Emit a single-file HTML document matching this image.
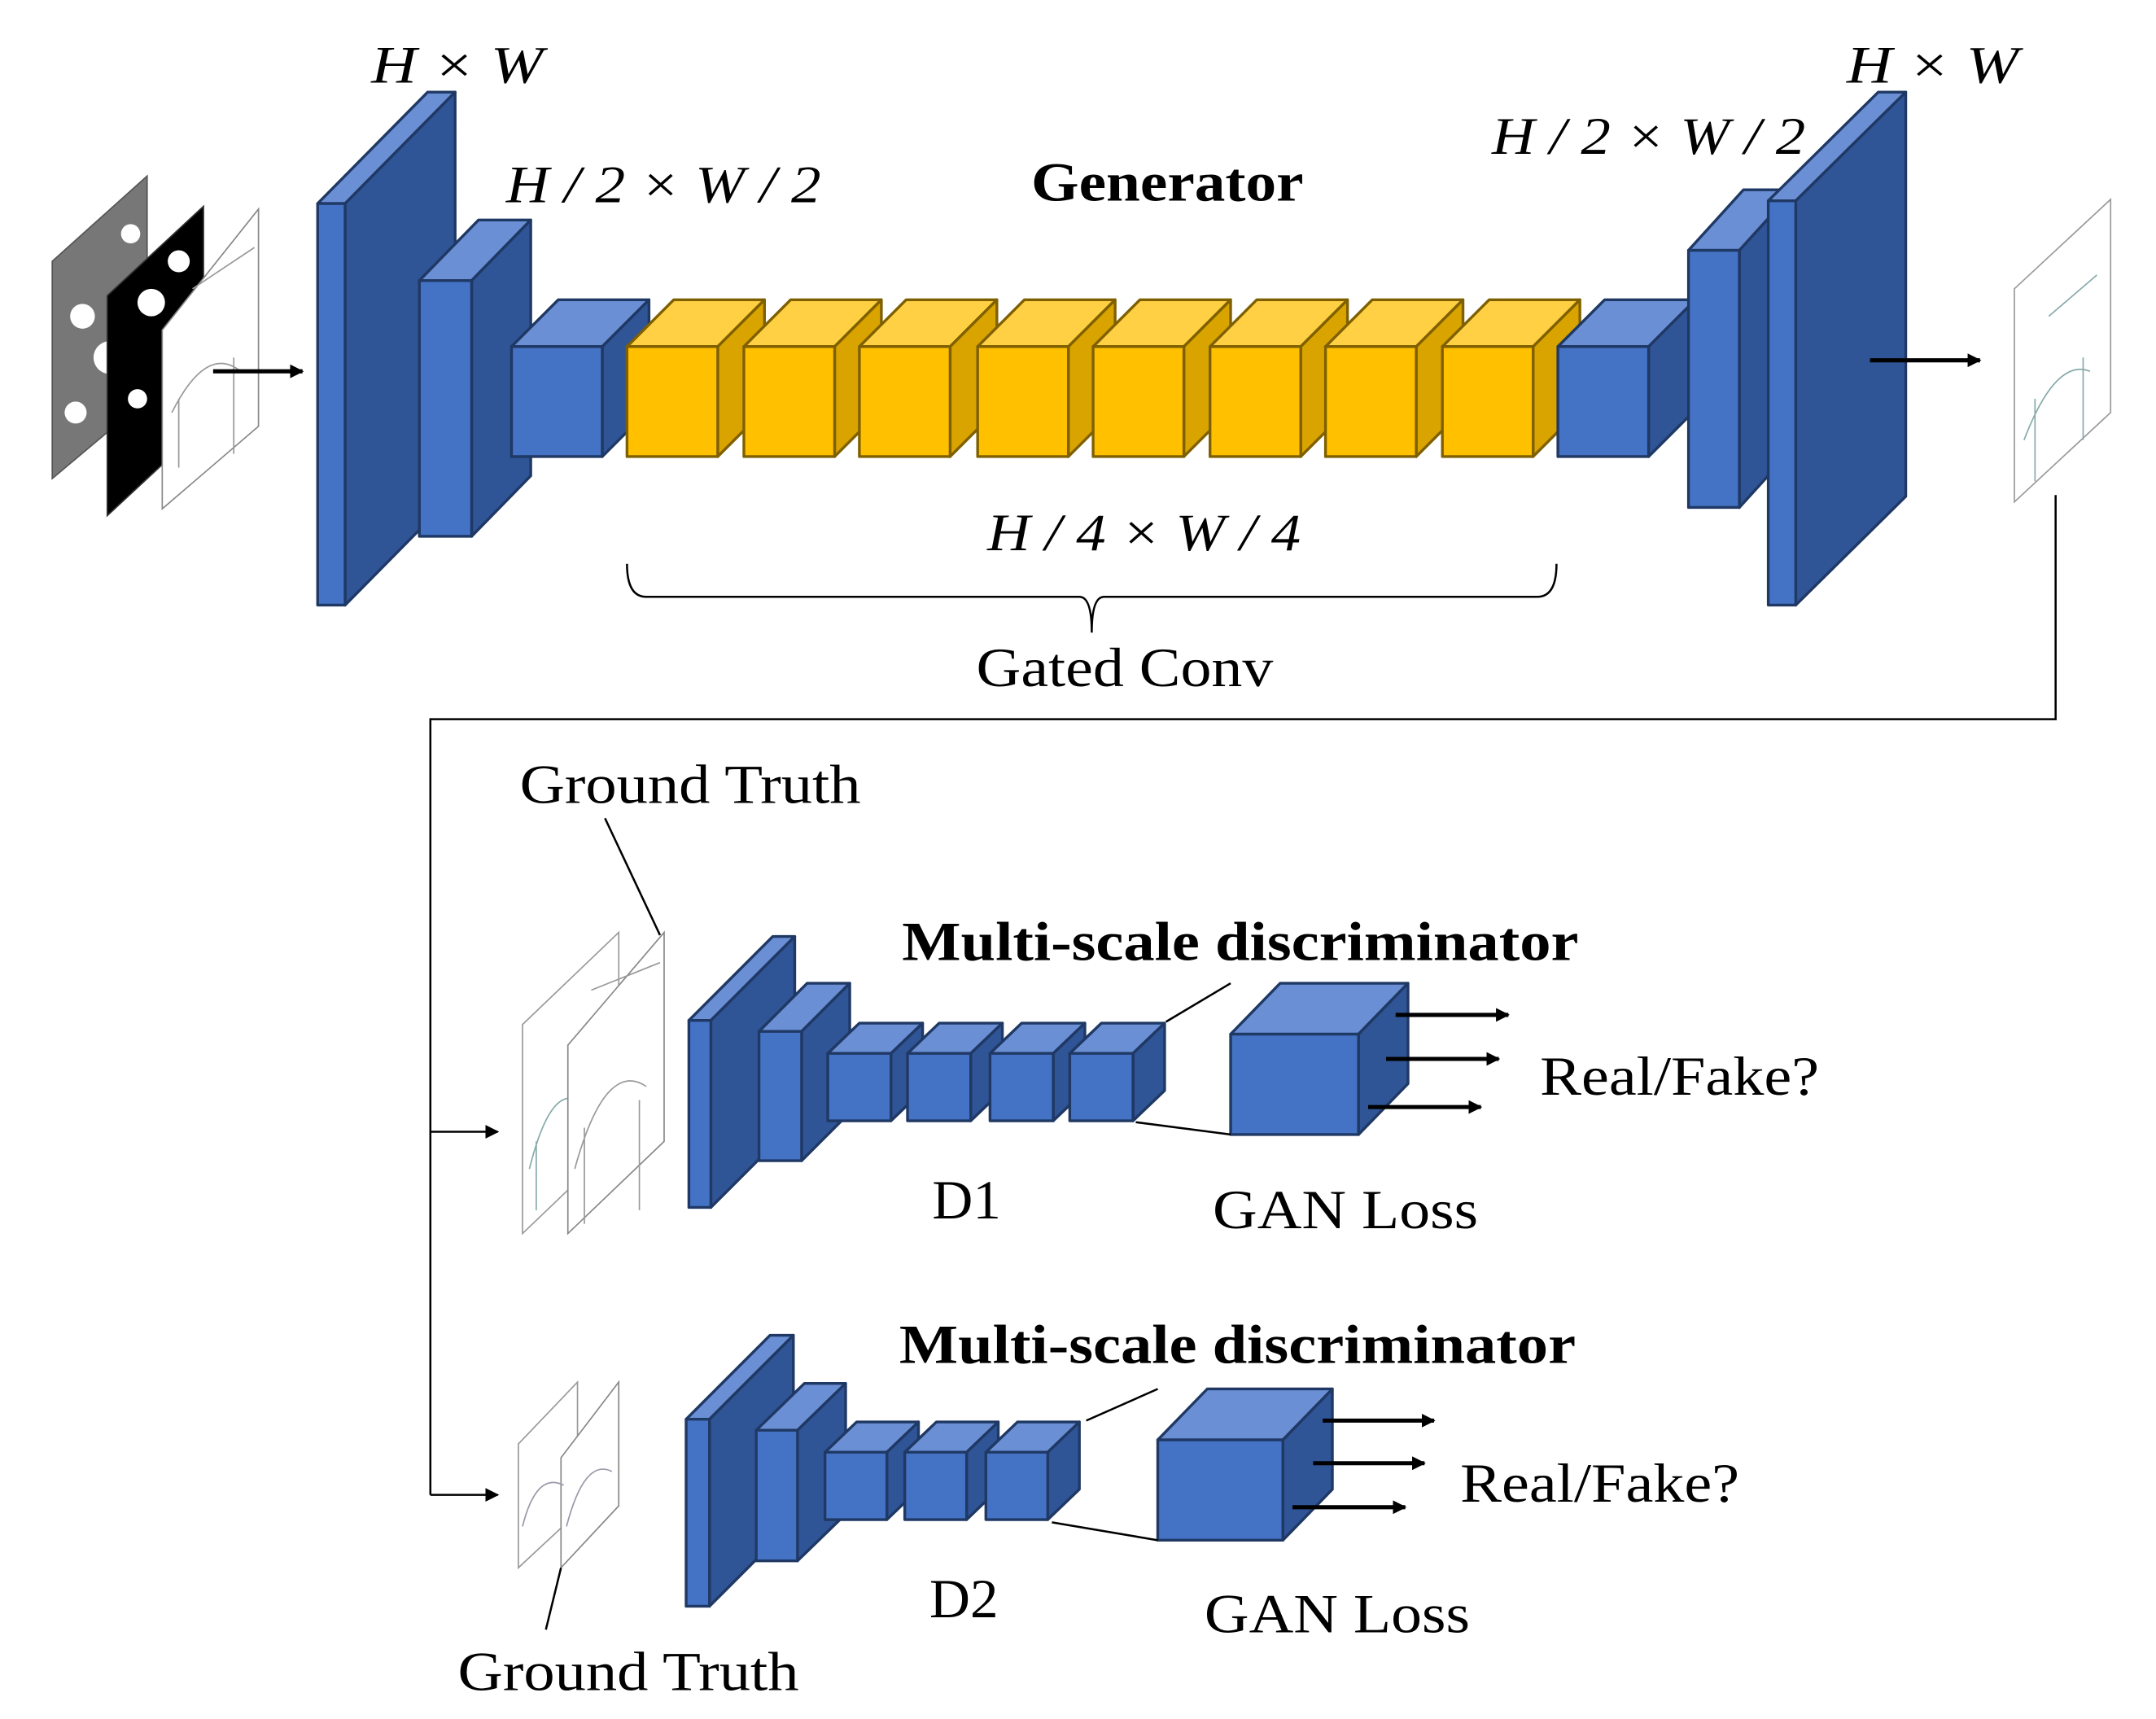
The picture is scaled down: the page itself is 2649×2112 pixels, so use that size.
<!DOCTYPE html>
<html><head><meta charset="utf-8"><style>
html,body{margin:0;padding:0;background:#fff;}
svg{display:block;}
text{font-family:"Liberation Serif",serif;fill:#000;}
.m{font-style:italic;font-size:38px;}
.b{font-weight:bold;font-size:40px;}
.t{font-size:40px;}
</style></head><body>
<svg width="2649" height="2112" viewBox="0 0 1568 1250" preserveAspectRatio="none" xmlns="http://www.w3.org/2000/svg">
<defs>
<marker id="ar" markerWidth="10" markerHeight="10" refX="9" refY="5" orient="auto" markerUnits="userSpaceOnUse"><path d="M0,0 L10,5 L0,10 z" fill="#000"/></marker>
</defs>

<!-- input images -->
<polygon points="38,190 107,128 107,290 38,348" fill="#777" stroke="#555"/>
<g fill="#fff"><circle cx="60" cy="230" r="9"/><circle cx="80" cy="260" r="12"/><circle cx="55" cy="300" r="8"/><circle cx="95" cy="170" r="7"/></g>
<polygon points="78,215 148,150 148,310 78,375" fill="#000" stroke="#333"/>
<g fill="#fff"><circle cx="110" cy="220" r="10"/><circle cx="130" cy="190" r="8"/><circle cx="100" cy="290" r="7"/></g>
<polygon points="118,240 188,152 188,310 118,370" fill="#fff" stroke="#888"/>
<path d="M125,300 Q150,250 175,270 M130,340 L130,290 M170,330 L170,260 M140,210 L185,180" stroke="#999" fill="none"/>
<line x1="155" y1="270" x2="220" y2="270" stroke="#000" stroke-width="3" marker-end="url(#ar)"/>

<!-- output image -->
<polygon points="1465,210 1535,145 1535,300 1465,365" fill="#fff" stroke="#999"/>
<path d="M1472,320 Q1495,260 1520,270 M1480,350 L1480,290 M1515,320 L1515,260 M1490,230 L1525,200" stroke="#8aa" fill="none"/>

<!-- labels generator -->
<text x="270" y="60" class="m" textLength="125" lengthAdjust="spacingAndGlyphs">H × W</text>
<text x="368" y="147" class="m" textLength="229" lengthAdjust="spacingAndGlyphs">H / 2 × W / 2</text>
<text x="750" y="146" class="b" textLength="198" lengthAdjust="spacingAndGlyphs">Generator</text>
<text x="1085" y="112" class="m" textLength="228" lengthAdjust="spacingAndGlyphs">H / 2 × W / 2</text>
<text x="1343" y="60" class="m" textLength="125" lengthAdjust="spacingAndGlyphs">H × W</text>
<text x="718" y="400" class="m" textLength="228" lengthAdjust="spacingAndGlyphs">H / 4 × W / 4</text>
<path d="M456,410 Q456,434 470,434 L785,434 Q794,434 794,460 Q794,434 803,434 L1118,434 Q1132,434 1132,410" fill="none" stroke="#000" stroke-width="1.5"/>
<text x="710" y="499" class="t" textLength="216" lengthAdjust="spacingAndGlyphs">Gated Conv</text>

<!-- connector -->
<polyline points="1495,360 1495,523 313,523 313,1087" fill="none" stroke="#000" stroke-width="1.5"/>
<line x1="313" y1="823" x2="362" y2="823" stroke="#000" stroke-width="1.5" marker-end="url(#ar)"/>
<line x1="313" y1="1087" x2="362" y2="1087" stroke="#000" stroke-width="1.5" marker-end="url(#ar)"/>

<!-- GT 1 -->
<text x="378" y="584" class="t" textLength="248" lengthAdjust="spacingAndGlyphs">Ground Truth</text>
<line x1="440" y1="595" x2="480" y2="680" stroke="#000" stroke-width="1.5"/>
<polygon points="380,745 450,678 450,830 380,897" fill="#fff" stroke="#999"/>
<path d="M385,850 Q400,790 420,800 M390,880 L390,830" stroke="#8aa" fill="none"/>
<polygon points="413,760 483,678 483,830 413,897" fill="#fff" stroke="#888"/>
<path d="M418,850 Q440,770 470,790 M425,890 L425,820 M465,880 L465,800 M430,720 L480,700" stroke="#999" fill="none"/>
<text x="656" y="698" class="b" textLength="492" lengthAdjust="spacingAndGlyphs">Multi-scale discriminator</text>
<text x="678" y="886" class="t" textLength="50" lengthAdjust="spacingAndGlyphs">D1</text>
<text x="882" y="893" class="t" textLength="193" lengthAdjust="spacingAndGlyphs">GAN Loss</text>
<text x="1120" y="796" class="t" textLength="203" lengthAdjust="spacingAndGlyphs">Real/Fake?</text>

<!-- GT 2 -->
<polygon points="377,1050 420,1005 420,1100 377,1140" fill="#fff" stroke="#999"/>
<polygon points="408,1060 450,1005 450,1095 408,1140" fill="#fff" stroke="#888"/>
<path d="M412,1110 Q425,1060 445,1070 M380,1110 Q390,1070 410,1080" stroke="#99a" fill="none"/>
<line x1="408" y1="1140" x2="397" y2="1185" stroke="#000" stroke-width="1.5"/>
<text x="333" y="1229" class="t" textLength="248" lengthAdjust="spacingAndGlyphs">Ground Truth</text>
<text x="654" y="991" class="b" textLength="492" lengthAdjust="spacingAndGlyphs">Multi-scale discriminator</text>
<text x="676" y="1176" class="t" textLength="50" lengthAdjust="spacingAndGlyphs">D2</text>
<text x="876" y="1187" class="t" textLength="193" lengthAdjust="spacingAndGlyphs">GAN Loss</text>
<text x="1062" y="1092" class="t" textLength="203" lengthAdjust="spacingAndGlyphs">Real/Fake?</text>

<g stroke="#1f3864" stroke-width="2" stroke-linejoin="round">
<polygon points="231,148 311,67 331,67 251,148" fill="#6A8FD4"/><polygon points="251,148 331,67 331,359 251,440" fill="#2F5597"/><rect x="231" y="148" width="20" height="292" fill="#4472C4"/>
<polygon points="305,204 348,160 386,160 343,204" fill="#6A8FD4"/><polygon points="343,204 386,160 386,346 343,390" fill="#2F5597"/><rect x="305" y="204" width="38" height="186" fill="#4472C4"/>
<polygon points="372,252 406,218 472,218 438,252" fill="#6A8FD4"/><polygon points="438,252 472,218 472,298 438,332" fill="#2F5597"/><rect x="372" y="252" width="66" height="80" fill="#4472C4"/>
</g>
<g stroke="#7f6000" stroke-width="2" stroke-linejoin="round">
<polygon points="456,252 490,218 556,218 522,252" fill="#FFD044"/><polygon points="522,252 556,218 556,298 522,332" fill="#D9A300"/><rect x="456" y="252" width="66" height="80" fill="#FFC000"/>
<polygon points="541,252 575,218 641,218 607,252" fill="#FFD044"/><polygon points="607,252 641,218 641,298 607,332" fill="#D9A300"/><rect x="541" y="252" width="66" height="80" fill="#FFC000"/>
<polygon points="625,252 659,218 725,218 691,252" fill="#FFD044"/><polygon points="691,252 725,218 725,298 691,332" fill="#D9A300"/><rect x="625" y="252" width="66" height="80" fill="#FFC000"/>
<polygon points="711,252 745,218 811,218 777,252" fill="#FFD044"/><polygon points="777,252 811,218 811,298 777,332" fill="#D9A300"/><rect x="711" y="252" width="66" height="80" fill="#FFC000"/>
<polygon points="795,252 829,218 895,218 861,252" fill="#FFD044"/><polygon points="861,252 895,218 895,298 861,332" fill="#D9A300"/><rect x="795" y="252" width="66" height="80" fill="#FFC000"/>
<polygon points="880,252 914,218 980,218 946,252" fill="#FFD044"/><polygon points="946,252 980,218 980,298 946,332" fill="#D9A300"/><rect x="880" y="252" width="66" height="80" fill="#FFC000"/>
<polygon points="964,252 998,218 1064,218 1030,252" fill="#FFD044"/><polygon points="1030,252 1064,218 1064,298 1030,332" fill="#D9A300"/><rect x="964" y="252" width="66" height="80" fill="#FFC000"/>
<polygon points="1049,252 1083,218 1149,218 1115,252" fill="#FFD044"/><polygon points="1115,252 1149,218 1149,298 1115,332" fill="#D9A300"/><rect x="1049" y="252" width="66" height="80" fill="#FFC000"/>
</g>
<g stroke="#1f3864" stroke-width="2" stroke-linejoin="round">
<polygon points="1133,252 1167,218 1233,218 1199,252" fill="#6A8FD4"/><polygon points="1199,252 1233,218 1233,298 1199,332" fill="#2F5597"/><rect x="1133" y="252" width="66" height="80" fill="#4472C4"/>
<polygon points="1228,182 1268,138 1305,138 1265,182" fill="#6A8FD4"/><polygon points="1265,182 1305,138 1305,325 1265,369" fill="#2F5597"/><rect x="1228" y="182" width="37" height="187" fill="#4472C4"/>
<polygon points="1286,146 1366,67 1386,67 1306,146" fill="#6A8FD4"/><polygon points="1306,146 1386,67 1386,361 1306,440" fill="#2F5597"/><rect x="1286" y="146" width="20" height="294" fill="#4472C4"/>

<!-- D1 -->
<polygon points="501,742 562,681 578,681 517,742" fill="#6A8FD4"/><polygon points="517,742 578,681 578,817 517,878" fill="#2F5597"/><rect x="501" y="742" width="16" height="136" fill="#4472C4"/>
<polygon points="552,750 587,715 618,715 583,750" fill="#6A8FD4"/><polygon points="583,750 618,715 618,809 583,844" fill="#2F5597"/><rect x="552" y="750" width="31" height="94" fill="#4472C4"/>
<polygon points="602,766 625,744 671,744 648,766" fill="#6A8FD4"/><polygon points="648,766 671,744 671,793 648,815" fill="#2F5597"/><rect x="602" y="766" width="46" height="49" fill="#4472C4"/>
<polygon points="660,766 683,744 729,744 706,766" fill="#6A8FD4"/><polygon points="706,766 729,744 729,793 706,815" fill="#2F5597"/><rect x="660" y="766" width="46" height="49" fill="#4472C4"/>
<polygon points="720,766 743,744 789,744 766,766" fill="#6A8FD4"/><polygon points="766,766 789,744 789,793 766,815" fill="#2F5597"/><rect x="720" y="766" width="46" height="49" fill="#4472C4"/>
<polygon points="778,766 801,744 847,744 824,766" fill="#6A8FD4"/><polygon points="824,766 847,744 847,793 824,815" fill="#2F5597"/><rect x="778" y="766" width="46" height="49" fill="#4472C4"/>
<polygon points="895,752 931,715 1024,715 988,752" fill="#6A8FD4"/><polygon points="988,752 1024,715 1024,788 988,825" fill="#2F5597"/><rect x="895" y="752" width="93" height="73" fill="#4472C4"/>

<!-- D2 -->
<polygon points="499,1032 560,971 577,971 516,1032" fill="#6A8FD4"/><polygon points="516,1032 577,971 577,1107 516,1168" fill="#2F5597"/><rect x="499" y="1032" width="17" height="136" fill="#4472C4"/>
<polygon points="550,1040 585,1006 615,1006 580,1040" fill="#6A8FD4"/><polygon points="580,1040 615,1006 615,1101 580,1135" fill="#2F5597"/><rect x="550" y="1040" width="30" height="95" fill="#4472C4"/>
<polygon points="600,1056 623,1034 668,1034 645,1056" fill="#6A8FD4"/><polygon points="645,1056 668,1034 668,1083 645,1105" fill="#2F5597"/><rect x="600" y="1056" width="45" height="49" fill="#4472C4"/>
<polygon points="658,1056 681,1034 726,1034 703,1056" fill="#6A8FD4"/><polygon points="703,1056 726,1034 726,1083 703,1105" fill="#2F5597"/><rect x="658" y="1056" width="45" height="49" fill="#4472C4"/>
<polygon points="717,1056 740,1034 785,1034 762,1056" fill="#6A8FD4"/><polygon points="762,1056 785,1034 785,1083 762,1105" fill="#2F5597"/><rect x="717" y="1056" width="45" height="49" fill="#4472C4"/>
<polygon points="842,1047 878,1010 969,1010 933,1047" fill="#6A8FD4"/><polygon points="933,1047 969,1010 969,1083 933,1120" fill="#2F5597"/><rect x="842" y="1047" width="91" height="73" fill="#4472C4"/>
</g>

<!-- lines on top -->
<line x1="1360" y1="262" x2="1440" y2="262" stroke="#000" stroke-width="3" marker-end="url(#ar)"/>
<line x1="848" y1="743" x2="895" y2="715" stroke="#000" stroke-width="1.5"/>
<line x1="826" y1="816" x2="895" y2="825" stroke="#000" stroke-width="1.5"/>
<line x1="1015" y1="738" x2="1097" y2="738" stroke="#000" stroke-width="3" marker-end="url(#ar)"/>
<line x1="1008" y1="770" x2="1090" y2="770" stroke="#000" stroke-width="3" marker-end="url(#ar)"/>
<line x1="995" y1="805" x2="1077" y2="805" stroke="#000" stroke-width="3" marker-end="url(#ar)"/>
<line x1="790" y1="1033" x2="842" y2="1010" stroke="#000" stroke-width="1.5"/>
<line x1="765" y1="1107" x2="842" y2="1120" stroke="#000" stroke-width="1.5"/>
<line x1="962" y1="1033" x2="1043" y2="1033" stroke="#000" stroke-width="3" marker-end="url(#ar)"/>
<line x1="955" y1="1064" x2="1036" y2="1064" stroke="#000" stroke-width="3" marker-end="url(#ar)"/>
<line x1="940" y1="1096" x2="1022" y2="1096" stroke="#000" stroke-width="3" marker-end="url(#ar)"/>
</svg>
</body></html>
